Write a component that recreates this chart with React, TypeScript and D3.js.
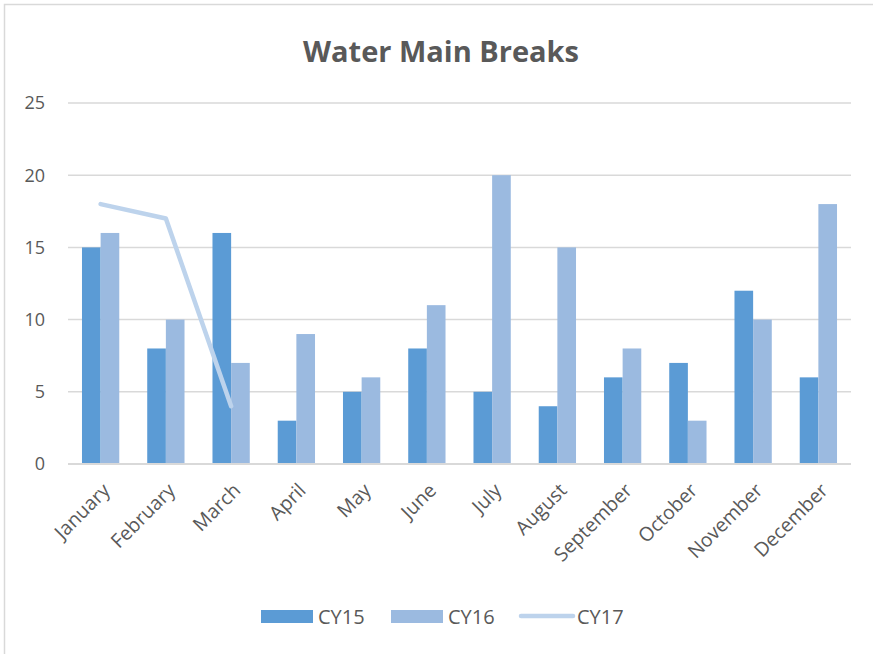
import React from 'react';
import * as d3 from 'd3';

const months = ['January', 'February', 'March', 'April', 'May', 'June', 'July', 'August', 'September', 'October', 'November', 'December'];
const cy15 = [15, 8, 16, 3, 5, 8, 5, 4, 6, 7, 12, 6];
const cy16 = [16, 10, 7, 9, 6, 11, 20, 15, 8, 3, 10, 18];
const cy17 = [18, 17, 4];
const yTicks = [0, 5, 10, 15, 20, 25];

const W = 873;
const H = 654;
const FONT = "'Open Sans', 'Liberation Sans', sans-serif";
const TEXT = '#595959';
const C15 = '#5B9BD5';
const C16 = '#9BBAE0';
const C17 = '#BDD3EC';

const App = () => {
  const x = d3.scaleBand<string>().domain(months).range([68, 851]);
  const y = d3.scaleLinear().domain([0, 25]).range([464, 103]);
  const step = x.step();
  const barW = step / 3.5;

  const line = d3
    .line<number>()
    .x((_, i) => (x(months[i]) as number) + step / 2)
    .y(d => y(d));

  return (
    <svg width={W} height={H} style={{ position: 'absolute', left: 0, top: 0, background: '#fff' }} fontFamily={FONT}>
      <rect x={4.5} y={4.5} width={W + 20} height={H + 20} fill="#fff" stroke="#D9D9D9" strokeWidth={1.5} />
      <text x={441} y={62} textAnchor="middle" fontSize={29} fontWeight="bold" fill={TEXT}>
        Water Main Breaks
      </text>

      {yTicks.map(t => (
        <g key={t}>
          {t > 0 && <line x1={68} x2={851} y1={y(t)} y2={y(t)} stroke="#D9D9D9" strokeWidth={1.5} />}
          <text x={45} y={y(t)} dy="0.35em" textAnchor="end" fontSize={18} fill={TEXT}>
            {t}
          </text>
        </g>
      ))}

      {months.map((m, i) => {
        const cx = (x(m) as number) + step / 2;
        return (
          <g key={m}>
            <rect x={cx - barW} y={y(cy15[i])} width={barW} height={y(0) - y(cy15[i])} fill={C15} />
            <rect x={cx} y={y(cy16[i])} width={barW} height={y(0) - y(cy16[i])} fill={C16} />
            <text
              transform={`translate(${cx + 1},${482}) rotate(-45)`}
              textAnchor="end"
              dy="0.7em"
              fontSize={19.5}
              fill={TEXT}
            >
              {m}
            </text>
          </g>
        );
      })}

      <line x1={68} x2={851} y1={y(0)} y2={y(0)} stroke="#D9D9D9" strokeWidth={2} />

      <path d={line(cy17) || ''} fill="none" stroke={C17} strokeWidth={4.5} strokeLinecap="round" strokeLinejoin="round" />

      <g fontSize={20} fill={TEXT}>
        <rect x={261} y={610} width={52} height={13} fill={C15} />
        <text x={318} y={617} dy="0.35em">CY15</text>
        <rect x={391} y={610} width={52} height={13} fill={C16} />
        <text x={448} y={617} dy="0.35em">CY16</text>
        <line x1={521} x2={573} y1={616} y2={616} stroke={C17} strokeWidth={4.5} strokeLinecap="round" />
        <text x={577} y={617} dy="0.35em">CY17</text>
      </g>
    </svg>
  );
};

export default App;
